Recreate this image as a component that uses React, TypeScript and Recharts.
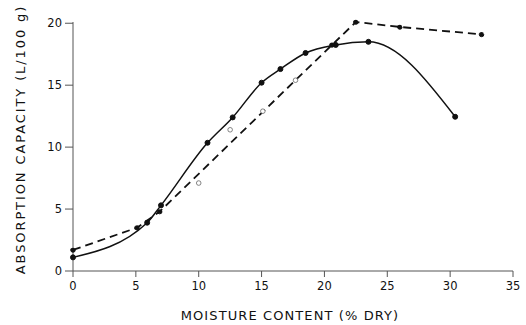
import React from 'react';
import { ComposedChart, Line, XAxis, YAxis } from 'recharts';

// Solid curve (smooth)
const solidMoisture = [0, 5.9, 7.0, 10.7, 12.7, 15.0, 16.5, 18.5, 20.9, 23.5, 30.4];
const solidCapacity = [1.1, 3.9, 5.3, 10.35, 12.4, 15.2, 16.3, 17.6, 18.25, 18.5, 12.45];

// Dashed line (straight segments)
const dashedMoisture = [0, 5.1, 6.9, 20.6, 22.5, 26.0, 32.5];
const dashedCapacity = [1.7, 3.5, 4.8, 18.25, 20.1, 19.7, 19.1];

// Hollow points lying along the dashed line
const openMoisture = [10.0, 12.5, 15.1, 17.7];
const openCapacity = [7.1, 11.4, 12.9, 15.4];

const xTicks = [0, 5, 10, 15, 20, 25, 30, 35];
const yTicks = [0, 5, 10, 15, 20];

const xTitle = 'MOISTURE CONTENT (% DRY)';
const yTitle = 'ABSORPTION CAPACITY (L/100 g)';

const zip = (xs: number[], ys: number[]) => xs.map((x, i) => ({ x, y: ys[i] }));
const solidData = zip(solidMoisture, solidCapacity);
const dashedData = zip(dashedMoisture, dashedCapacity);
const openData = zip(openMoisture, openCapacity);

const FONT = '"DejaVu Sans", "Liberation Sans", sans-serif';
const INK = '#111';

const YTitle = (props: any) => {
  const vb = props.viewBox || {};
  const cx = (vb.x || 0) + 20;
  const cy = (vb.y || 0) + (vb.height || 0) / 2 - 7;
  return (
    <text
      x={cx}
      y={cy}
      transform={`rotate(-90, ${cx}, ${cy})`}
      textAnchor="middle"
      dominantBaseline="central"
      fontSize={13}
      letterSpacing={1.9}
      fontFamily={FONT}
      fill={INK}
    >
      {yTitle}
    </text>
  );
};

const XTitle = (props: any) => {
  const vb = props.viewBox || {};
  const cx = (vb.x || 0) + (vb.width || 0) / 2 - 3;
  const cy = (vb.y || 0) + (vb.height || 0) - 5;
  return (
    <text
      x={cx}
      y={cy}
      textAnchor="middle"
      fontSize={13}
      letterSpacing={1.1}
      fontFamily={FONT}
      fill={INK}
    >
      {xTitle}
    </text>
  );
};

export default function App() {
  return (
    <div style={{ position: 'absolute', left: 0, top: 0, width: 526, height: 325, background: '#fff' }}>
      <ComposedChart
        width={526}
        height={325}
        margin={{ top: 22, right: 13, left: 0, bottom: 0 }}
      >
        <XAxis
          type="number"
          dataKey="x"
          domain={[0, 35]}
          ticks={xTicks}
          interval={0}
          tickSize={6}
          tickMargin={5}
          height={54}
          stroke="#555"
          tick={{ fontSize: 11.5, fill: INK, fontFamily: FONT }}
          label={<XTitle />}
        />
        <YAxis
          type="number"
          dataKey="y"
          domain={[0, 20.1]}
          ticks={yTicks}
          interval={0}
          tickSize={8}
          tickMargin={3}
          width={73}
          stroke="#555"
          tick={{ fontSize: 11.5, fill: INK, fontFamily: FONT }}
          label={<YTitle />}
        />
        <Line
          data={solidData}
          dataKey="y"
          type="monotone"
          stroke={INK}
          strokeWidth={1.5}
          dot={{ r: 2.5, fill: INK, stroke: INK, strokeWidth: 1 }}
          activeDot={false}
          isAnimationActive={false}
        />
        <Line
          data={dashedData}
          dataKey="y"
          type="linear"
          stroke={INK}
          strokeWidth={1.8}
          strokeDasharray="8 5"
          dot={{ r: 2.3, fill: INK, stroke: INK, strokeWidth: 1 }}
          activeDot={false}
          isAnimationActive={false}
        />
        <Line
          data={openData}
          dataKey="y"
          type="linear"
          stroke="none"
          dot={{ r: 2.3, fill: '#fff', stroke: '#666', strokeWidth: 0.8 }}
          activeDot={false}
          isAnimationActive={false}
        />
      </ComposedChart>
    </div>
  );
}
